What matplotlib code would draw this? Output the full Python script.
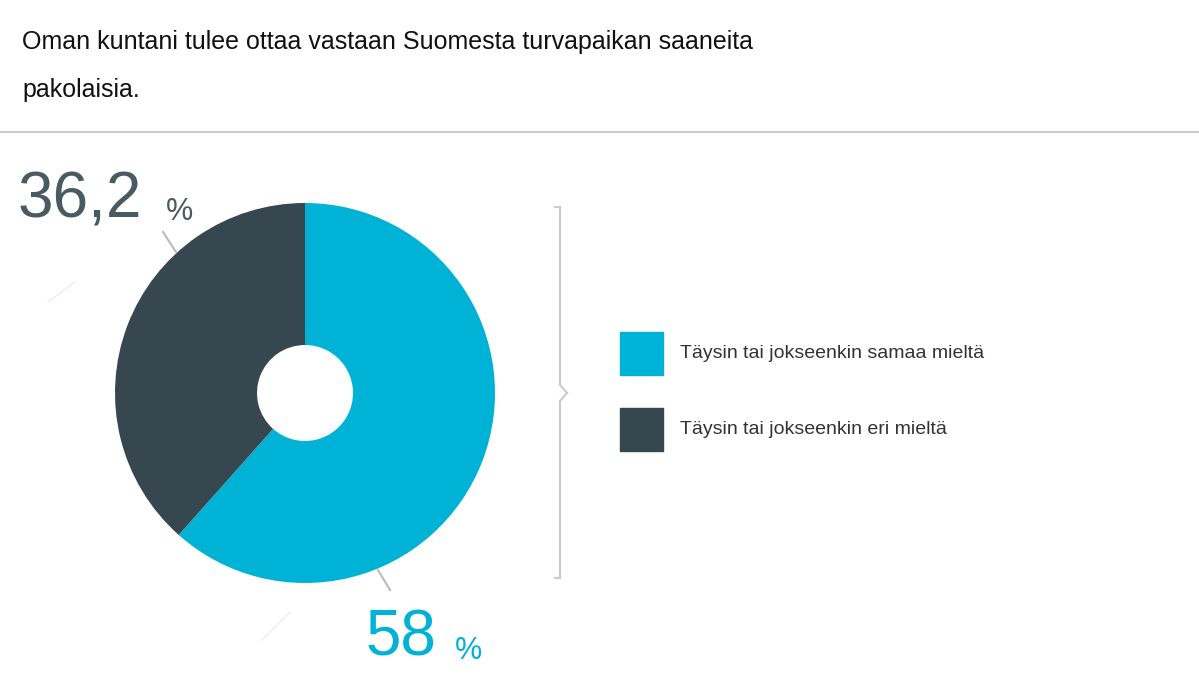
import matplotlib.pyplot as plt
from matplotlib.patches import Rectangle

plt.rcParams['font.family'] = ['Liberation Sans', 'DejaVu Sans']

labels = ["Täysin tai jokseenkin samaa mieltä", "Täysin tai jokseenkin eri mieltä"]
values = [58, 36.2]
value_texts = ["58", "36,2"]
colors = ["#00B2D6", "#37474F"]
title_lines = ["Oman kuntani tulee ottaa vastaan Suomesta turvapaikan saaneita", "pakolaisia."]

fig = plt.figure(figsize=(11.99, 6.74), dpi=100)
ax = fig.add_axes([0, 0, 1, 1])

for i, line in enumerate(title_lines):
    ax.text(22, 42 + i * 48, line, fontsize=18, va="center", ha="left", color="#111111")
ax.plot([0, 1199], [132, 132], color="#cccccc", lw=1.5)

ax.pie(values, colors=colors, center=(305, 393), radius=190, startangle=-90,
       counterclock=True, wedgeprops=dict(width=142, edgecolor="none"))
ax.set_xlim(0, 1199)
ax.set_ylim(674, 0)
ax.set_aspect("auto")
ax.axis("off")

# leader lines
ax.plot([163, 176], [232, 252], color="#bbbbbb", lw=1.5)
ax.plot([48, 75], [302, 282], color="#eeeeee", lw=1)
ax.plot([378, 390], [570, 590], color="#bbbbbb", lw=1.5)
ax.plot([262, 290], [640, 612], color="#eeeeee", lw=1)

ax.text(18, 200, value_texts[1], fontsize=46, color="#4a5a62", va="center", ha="left")
ax.text(166, 212, "%", fontsize=22, color="#4a5a62", va="center", ha="left")
ax.text(366, 638, value_texts[0], fontsize=46, color="#00B2D6", va="center", ha="left")
ax.text(455, 651, "%", fontsize=22, color="#00B2D6", va="center", ha="left")

# brace
bx = 555
ax.plot([bx, bx + 5], [207, 207], color="#cccccc", lw=1.5)
ax.plot([bx + 5, bx + 5], [207, 385], color="#cccccc", lw=1.5)
ax.plot([bx + 5, bx + 12], [385, 393], color="#cccccc", lw=1.5)
ax.plot([bx + 12, bx + 5], [393, 401], color="#cccccc", lw=1.5)
ax.plot([bx + 5, bx + 5], [401, 578], color="#cccccc", lw=1.5)
ax.plot([bx + 5, bx], [578, 578], color="#cccccc", lw=1.5)

for i, (lab, col) in enumerate(zip(labels, colors)):
    y = 332 + i * 76
    ax.add_patch(Rectangle((620, y), 43, 43, color=col))
    ax.text(680, y + 21, lab, fontsize=14, color="#333333", va="center", ha="left")

fig.savefig("out.png", dpi=100)
